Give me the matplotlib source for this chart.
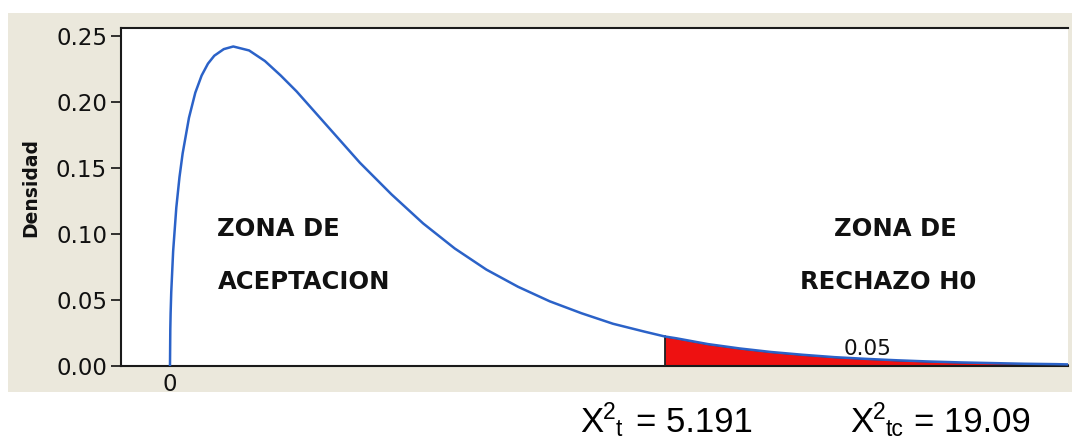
import matplotlib
matplotlib.use("Agg")
import matplotlib.pyplot as plt
from matplotlib.patches import Rectangle
import numpy as np

# Values (chi-square density curve)
x_vals = [0.0, 0.005, 0.01, 0.02, 0.05, 0.1, 0.15, 0.2, 0.3, 0.4, 0.5, 0.6, 0.7, 0.85, 1.0,
          1.25, 1.5, 1.75, 2.0, 2.5, 3.0, 3.5, 4.0, 4.5, 5.0, 5.5, 6.0, 6.5, 7.0, 7.5,
          7.815, 8.0, 8.5, 9.0, 9.5, 10.0, 10.5, 11.0, 11.5, 12.0, 12.5, 13.0, 13.5, 14.0, 14.2]
dens = [0.0, 0.028, 0.040, 0.056, 0.087, 0.120, 0.143, 0.161, 0.188, 0.207, 0.220, 0.229,
        0.235, 0.240, 0.242, 0.239, 0.231, 0.220, 0.208, 0.181, 0.154, 0.130, 0.108, 0.089,
        0.073, 0.060, 0.049, 0.040, 0.032, 0.026, 0.0224, 0.021, 0.0166, 0.0133, 0.0106,
        0.0085, 0.0067, 0.0054, 0.0043, 0.0034, 0.0027, 0.0022, 0.0017, 0.0014, 0.0012]
critical = 7.815
y_ticks = [0.00, 0.05, 0.10, 0.15, 0.20, 0.25]
y_tick_labels = ["0.00", "0.05", "0.10", "0.15", "0.20", "0.25"]
x_ticks = [0]
x_tick_labels = ["0"]
alpha_label = "0.05"
stat_subs = ["t", "tc"]
stat_values = ["5.191", "19.09"]

W, H = 1072, 443
fig = plt.figure(figsize=(W / 100, H / 100), dpi=100)
fig.patch.set_facecolor("white")

# scanned beige backdrop
bg = Rectangle((8 / W, (H - 392) / H), (W - 8) / W, (392 - 13) / H,
               transform=fig.transFigure, facecolor="#ebe8dc",
               edgecolor="none", zorder=-10)
fig.add_artist(bg)

ax = fig.add_axes([121 / W, 77 / H, (1068 - 121) / W, (366 - 28) / H])
ax.set_zorder(1)
ax.set_facecolor("white")
ax.set_xlim(-0.774, 14.19)
ax.set_ylim(0, 0.256)

x = np.array(x_vals)
y = np.array(dens)
mask = x >= critical
ax.fill_between(x[mask], 0, y[mask], color="#ee1111", zorder=2,
                edgecolor="#1a1a40", linewidth=0.8)
ax.plot([critical, critical], [0, y[x == critical][0]], color="#222222", lw=1.2, zorder=3)
ax.plot(x, y, color="#2b62c8", lw=1.8, zorder=4)

ax.set_yticks(y_ticks)
ax.set_yticklabels(y_tick_labels)
ax.set_xticks(x_ticks)
ax.set_xticklabels(x_tick_labels)
ax.tick_params(axis="y", length=7, width=1.2, pad=3, labelsize=16.5, colors="#111111")
ax.tick_params(axis="x", length=0, pad=5, labelsize=16.5, colors="#111111")

for s in ["left", "bottom", "top"]:
    ax.spines[s].set_color("#1a1a1a")
    ax.spines[s].set_linewidth(1.5)
ax.spines["right"].set_visible(False)

ax.set_ylabel("Densidad", fontsize=13.5, fontweight="bold", color="#111111")
ax.yaxis.set_label_coords(-0.085, 0.527)

tkw = dict(fontsize=17.5, fontweight="bold", color="#111111", family="DejaVu Sans",
           va="center")
ax.text(0.75, 0.1035, "ZONA DE", **tkw)
ax.text(0.75, 0.0635, "ACEPTACION", **tkw)
ax.text(10.5, 0.1035, "ZONA DE", **tkw)
ax.text(9.95, 0.0635, "RECHAZO H0", **tkw)
ax.text(10.65, 0.0085, alpha_label, fontsize=15.5, color="#111111")

# formula annotations below the chart
starts = [580, 850]
eq_offsets = [56, 64]
base = 1 - 432 / H
for x0, sub, val, eo in zip(starts, stat_subs, stat_values, eq_offsets):
    fig.text(x0 / W, base, "X", fontsize=25, family="Liberation Sans", va="baseline")
    fig.text((x0 + 23) / W, base + 13 / H, "2", fontsize=16.5, family="Liberation Sans",
             va="baseline")
    fig.text((x0 + 36) / W, base - 4 / H, sub, fontsize=16.5, family="Liberation Sans",
             va="baseline")
    fig.text((x0 + eo) / W, base, "= " + val, fontsize=25, family="Liberation Sans",
             va="baseline")

fig.savefig("out.png", dpi=100, facecolor="white")
